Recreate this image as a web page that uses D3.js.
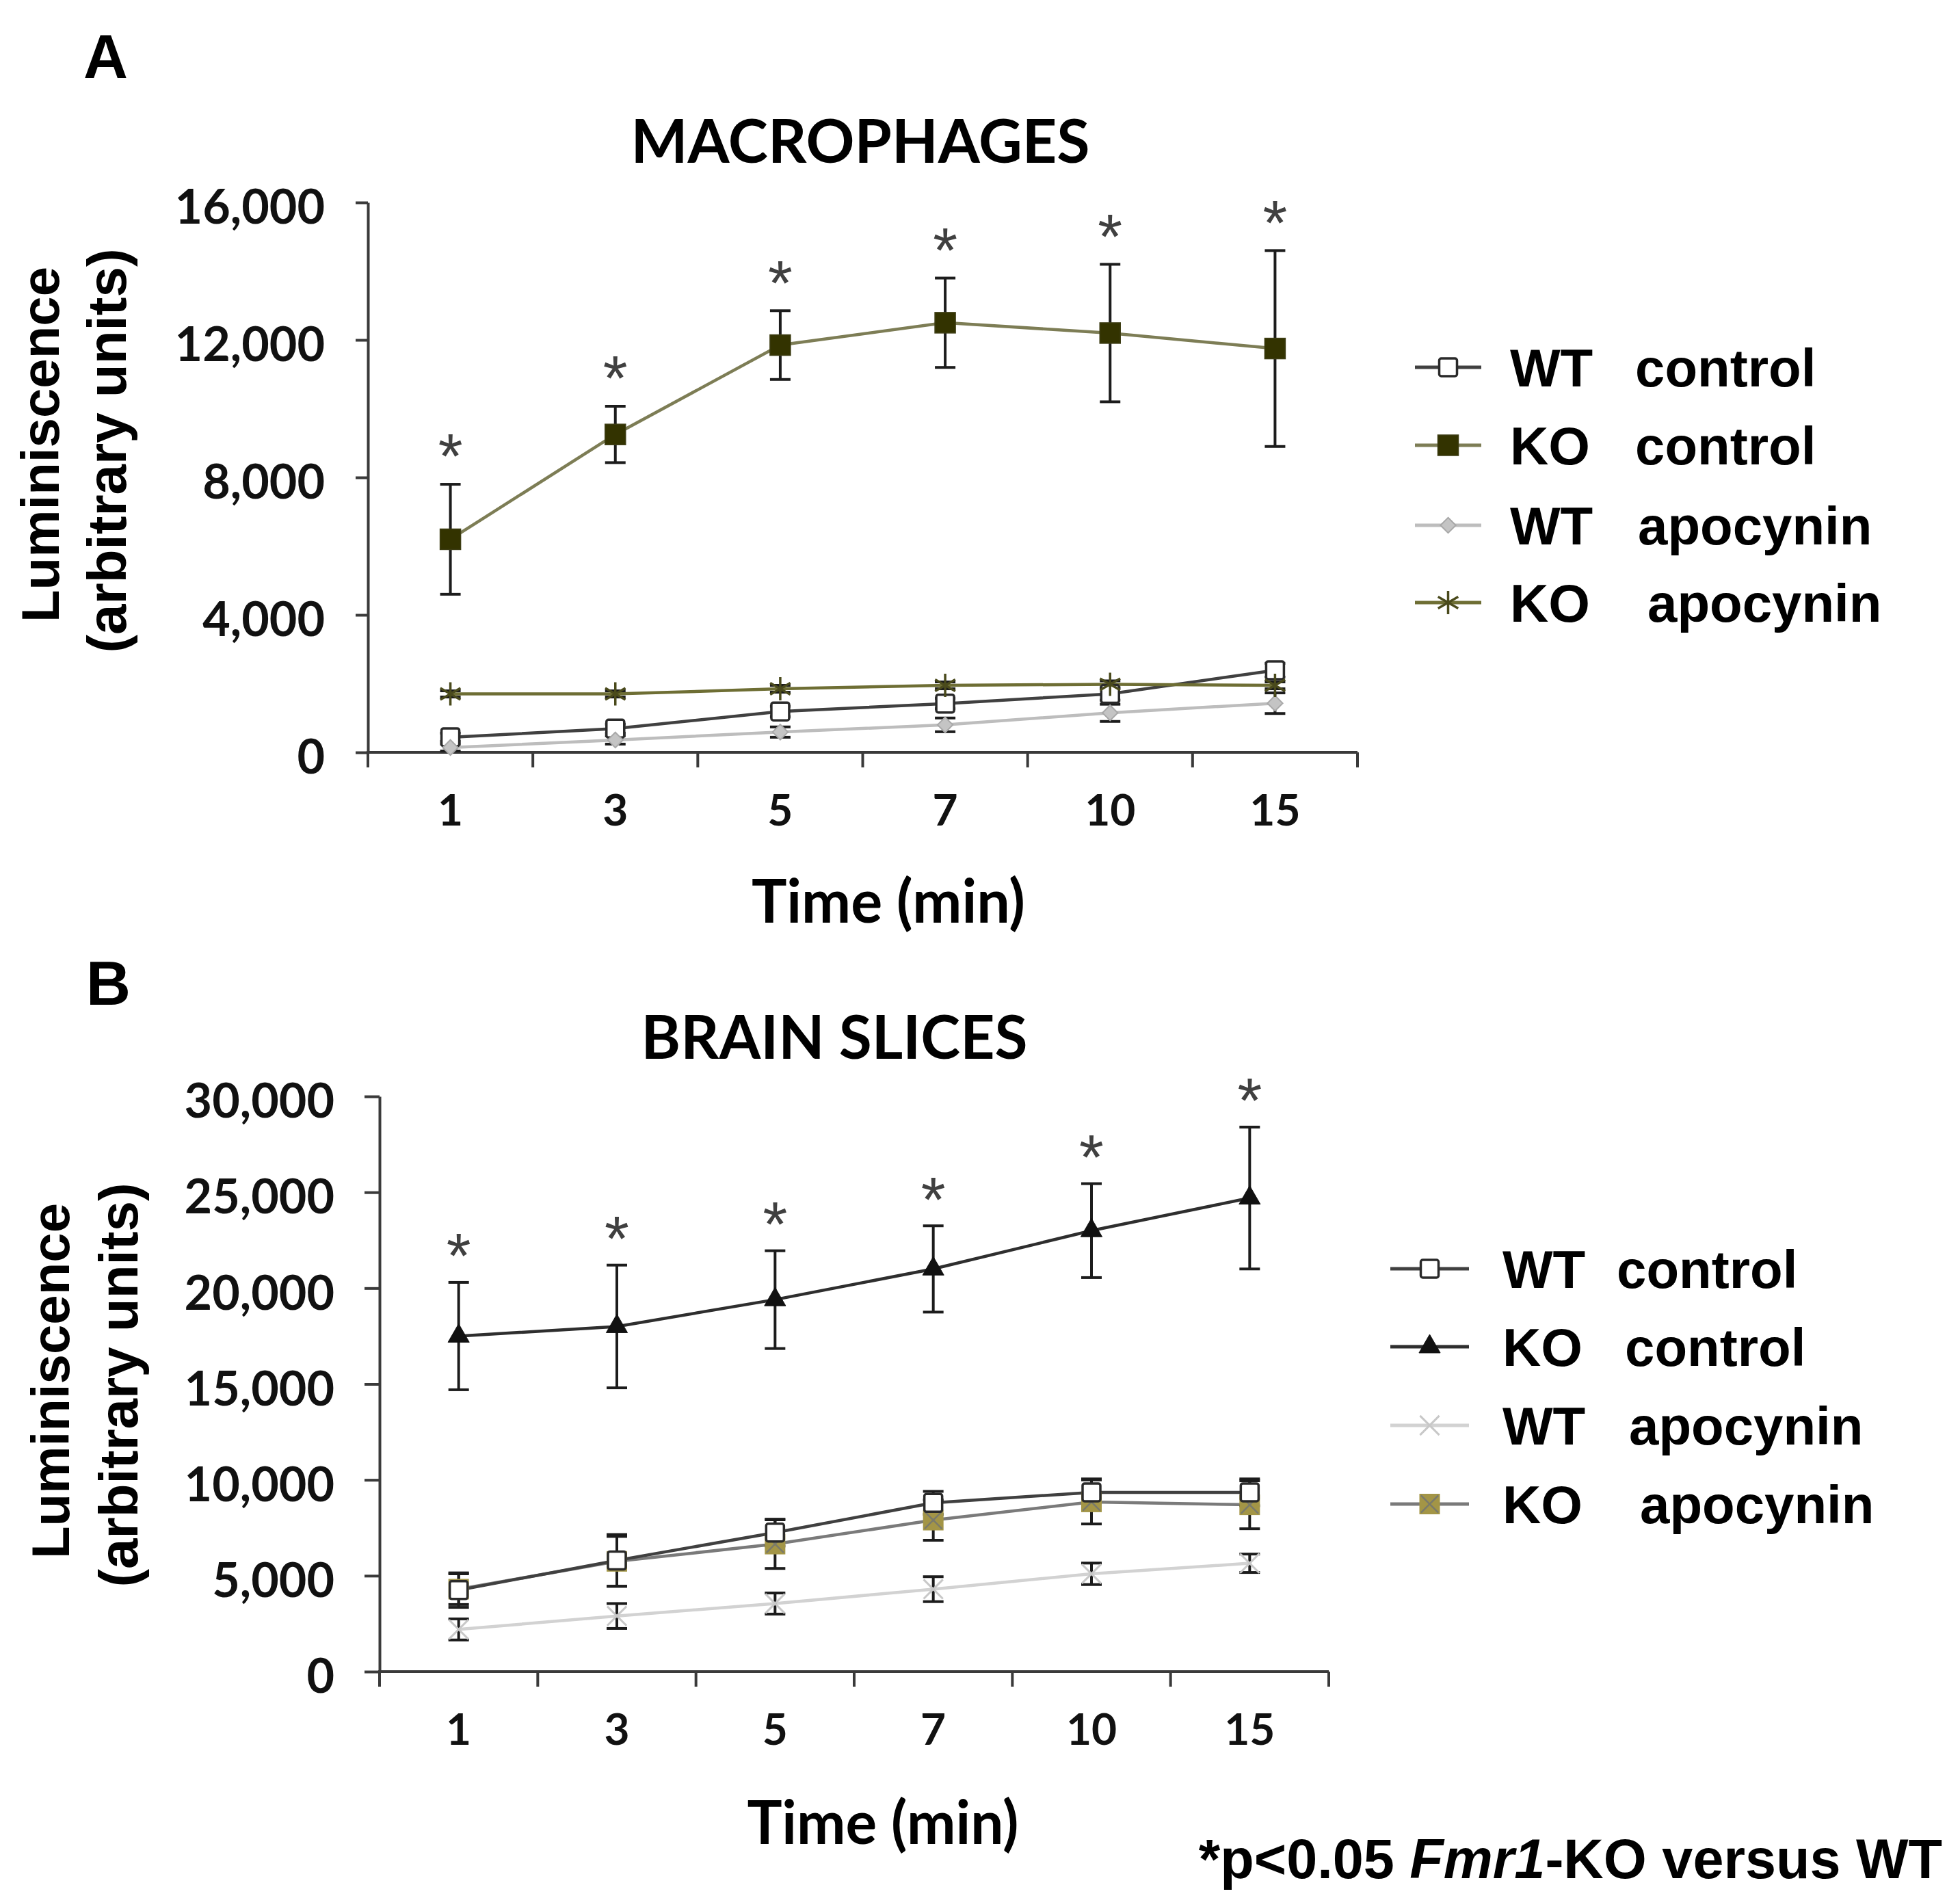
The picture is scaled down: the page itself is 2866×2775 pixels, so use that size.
<!DOCTYPE html>
<html>
<head>
<meta charset="utf-8">
<script src="https://cdn.jsdelivr.net/npm/d3@7"></script>
<style>
  body { margin: 0; background: #fff; }
  svg { display: block; }
</style>
</head>
<body>
<script>
// time points (min) shared by both panels
const times = ["1", "3", "5", "7", "10", "15"];

// panel A - macrophages
const yTicksA = [0, 4000, 8000, 12000, 16000];
const wtControlA = [440, 690, 1190, 1420, 1700, 2390];
const wtControlAErr = [120, 130, 150, 150, 180, 200];
const koControlA = [6200, 9250, 11850, 12500, 12200, 11750];
const koControlAErr = [1600, 820, 1000, 1300, 2000, 2850];
const wtApoA = [140, 360, 590, 800, 1150, 1430];
const wtApoAErr = [100, 120, 150, 200, 250, 300];
const koApoA = [1700, 1700, 1850, 1950, 1980, 1950];
const koApoAErr = [90, 90, 100, 100, 100, 100];

// panel B - brain slices
const yTicksB = [0, 5000, 10000, 15000, 20000, 25000, 30000];
const wtControlB = [4250, 5800, 7250, 8800, 9350, 9350];
const wtControlBErr = [900, 1350, 700, 600, 700, 700];
const koControlB = [17500, 18000, 19400, 21000, 23000, 24700];
const koControlBErr = [2800, 3200, 2550, 2250, 2450, 3700];
const wtApoB = [2200, 2900, 3550, 4300, 5100, 5650];
const wtApoBErr = [550, 650, 550, 650, 560, 480];
const koApoB = [4300, 5750, 6650, 7900, 8850, 8700];
const koApoBErr = [800, 1300, 1270, 1050, 1150, 1250];

const legendGeno = ["WT", "KO", "WT", "KO"];
const legendTreat = ["control", "control", "apocynin", "apocynin"];

const CAL = "Lato, 'Open Sans', sans-serif";
const ARIAL = "'Liberation Sans', Arial, sans-serif";

const svg = d3.select("body").append("svg")
    .attr("width", 2866)
    .attr("height", 2775);

function drawMarker(g, kind, x, y) {
    const m = g.append("g").attr("transform", `translate(${x},${y})`);
    if (kind === "openSquare") {
        m.append("rect").attr("x", -13).attr("y", -13).attr("width", 26).attr("height", 26)
            .attr("rx", 3).attr("fill", "#fff").attr("stroke", "#2a2a2a").attr("stroke-width", 3.5);
    } else if (kind === "filledSquare") {
        m.append("rect").attr("x", -15).attr("y", -15).attr("width", 30).attr("height", 30)
            .attr("fill", "#333300").attr("stroke", "#3d3d14").attr("stroke-width", 1.5);
    } else if (kind === "diamond") {
        m.append("path").attr("d", d3.symbol(d3.symbolDiamond2, 320)())
            .attr("fill", "#c4c4c4").attr("stroke", "#a8a8a8").attr("stroke-width", 2);
    } else if (kind === "asterisk") {
        m.append("path").attr("d", d3.symbol(d3.symbolAsterisk, 820)())
            .attr("fill", "none").attr("stroke", "#4a4a1c").attr("stroke-width", 3.5);
    } else if (kind === "triangle") {
        m.append("path").attr("d", d3.symbol(d3.symbolTriangle, 420)())
            .attr("fill", "#111").attr("stroke", "#111").attr("stroke-width", 1);
    } else if (kind === "x") {
        m.append("path").attr("d", d3.symbol(d3.symbolX, 520)())
            .attr("fill", "none").attr("stroke", "#c8c8c8").attr("stroke-width", 3);
    } else if (kind === "squareX") {
        m.append("rect").attr("x", -15).attr("y", -15).attr("width", 30).attr("height", 30)
            .attr("fill", "#a39546");
        m.append("path").attr("d", d3.symbol(d3.symbolX, 420)())
            .attr("fill", "none").attr("stroke", "#7a7a6a").attr("stroke-width", 2.5);
    }
}

const panels = [
    {
        letter: "A", letterX: 122, letterY: 114,
        title: "MACROPHAGES", titleX: 1258, titleY: 238, titleLen: 671,
        xRange: [538, 1985], yRange: [1100, 296], yMax: 16000, yTicks: yTicksA,
        tickLen: 18, tickPad: 45,
        xTitleX: 1299, xTitleY: 1349, xTitleLen: 400,
        yLab1: [86, 650], yLab2: [184, 659],
        legendX0: 2069, legendX1: 2166, legendTextX: 2208,
        legendRows: [537, 651, 768, 881], treatX: [2391, 2391, 2395, 2409],
        starGap: 62,
        series: [
            {values: wtControlA, err: wtControlAErr, color: "#404040", marker: "openSquare"},
            {values: wtApoA, err: wtApoAErr, color: "#bdbdbd", marker: "diamond"},
            {values: koApoA, err: koApoAErr, color: "#6e6e34", marker: "asterisk"},
            {values: koControlA, err: koControlAErr, color: "#7d7d55", marker: "filledSquare", stars: true}
        ],
        legendOrder: [0, 3, 1, 2]
    },
    {
        letter: "B", letterX: 126, letterY: 1469,
        title: "BRAIN SLICES", titleX: 1220, titleY: 1548, titleLen: 565,
        xRange: [555, 1943], yRange: [2444, 1603], yMax: 30000, yTicks: yTicksB,
        tickLen: 22, tickPad: 44,
        xTitleX: 1291, xTitleY: 2696, xTitleLen: 397,
        yLab1: [101, 2019], yLab2: [201, 2025],
        legendX0: 2033, legendX1: 2148, legendTextX: 2197,
        legendRows: [1855, 1969, 2084, 2199], treatX: [2364, 2376, 2382, 2398],
        starGap: 60,
        series: [
            {values: wtApoB, err: wtApoBErr, color: "#d2d2d2", marker: "x"},
            {values: koApoB, err: koApoBErr, color: "#7a7a7a", marker: "squareX"},
            {values: wtControlB, err: wtControlBErr, color: "#404040", marker: "openSquare"},
            {values: koControlB, err: koControlBErr, color: "#2e2e2e", marker: "triangle", stars: true}
        ],
        legendOrder: [2, 3, 0, 1]
    }
];

panels.forEach(p => {
    const g = svg.append("g");

    const x = d3.scaleBand().domain(times).range(p.xRange).paddingInner(0).paddingOuter(0);
    const y = d3.scaleLinear().domain([0, p.yMax]).range(p.yRange);
    const cx = t => x(t) + x.bandwidth() / 2;

    // panel letter and title
    g.append("text").attr("x", p.letterX).attr("y", p.letterY)
        .attr("font-family", ARIAL).attr("font-weight", "bold").attr("font-size", 90)
        .text(p.letter);
    g.append("text").attr("x", p.titleX).attr("y", p.titleY)
        .attr("text-anchor", "middle").attr("font-family", CAL).attr("font-weight", "bold")
        .attr("font-size", 88).attr("textLength", p.titleLen).attr("lengthAdjust", "spacingAndGlyphs")
        .text(p.title);

    // y axis
    const yAxis = g.append("g")
        .attr("transform", `translate(${p.xRange[0]},0)`)
        .call(d3.axisLeft(y).tickValues(p.yTicks).tickSize(p.tickLen).tickSizeOuter(0)
            .tickPadding(p.tickPad).tickFormat(d3.format(",")));
    yAxis.select(".domain").attr("stroke", "#3a3a3a").attr("stroke-width", 4);
    yAxis.selectAll(".tick line").attr("stroke", "#3a3a3a").attr("stroke-width", 4);
    yAxis.selectAll(".tick text").attr("font-family", CAL).attr("font-weight", "bold")
        .attr("font-size", 70).attr("fill", "#111").attr("dy", "0.44em");

    // x axis: labels at band centres, ticks at band edges
    const xAxis = g.append("g")
        .attr("transform", `translate(0,${p.yRange[0]})`)
        .call(d3.axisBottom(x).tickSize(0).tickPadding(62));
    xAxis.select(".domain").remove();
    xAxis.selectAll(".tick text").attr("font-family", CAL).attr("font-weight", "bold")
        .attr("font-size", 64).attr("fill", "#111");
    g.append("line")
        .attr("x1", p.xRange[0] - 2).attr("x2", p.xRange[1])
        .attr("y1", p.yRange[0]).attr("y2", p.yRange[0])
        .attr("stroke", "#3a3a3a").attr("stroke-width", 4);
    const edges = times.map(t => x(t)).concat([p.xRange[1]]);
    g.selectAll(".xedge").data(edges).join("line")
        .attr("x1", d => d).attr("x2", d => d)
        .attr("y1", p.yRange[0]).attr("y2", p.yRange[0] + 22)
        .attr("stroke", "#3a3a3a").attr("stroke-width", 4);

    // axis titles
    g.append("text").attr("x", p.xTitleX).attr("y", p.xTitleY)
        .attr("text-anchor", "middle").attr("font-family", CAL).attr("font-weight", "bold")
        .attr("font-size", 88).attr("textLength", p.xTitleLen).attr("lengthAdjust", "spacingAndGlyphs")
        .text("Time (min)");
    g.append("text").attr("transform", `translate(${p.yLab1[0]},${p.yLab1[1]}) rotate(-90)`)
        .attr("text-anchor", "middle").attr("font-family", ARIAL).attr("font-weight", "bold")
        .attr("font-size", 78).text("Luminiscence");
    g.append("text").attr("transform", `translate(${p.yLab2[0]},${p.yLab2[1]}) rotate(-90)`)
        .attr("text-anchor", "middle").attr("font-family", ARIAL).attr("font-weight", "bold")
        .attr("font-size", 80).text("(arbitrary units)");

    // lines
    const line = d3.line().x(d => cx(d.t)).y(d => y(d.v));
    p.series.forEach(s => {
        const pts = times.map((t, i) => ({t, v: s.values[i], e: s.err[i]}));
        s.pts = pts;
        g.append("path").datum(pts).attr("d", line)
            .attr("fill", "none").attr("stroke", s.color).attr("stroke-width", 4.5);
    });

    // error bars
    p.series.forEach(s => {
        const eb = g.append("g").attr("stroke", "#1c1c1c").attr("stroke-width", 4);
        eb.selectAll("line.v").data(s.pts).join("line")
            .attr("x1", d => cx(d.t)).attr("x2", d => cx(d.t))
            .attr("y1", d => y(d.v - d.e)).attr("y2", d => y(d.v + d.e));
        eb.selectAll("line.top").data(s.pts).join("line")
            .attr("x1", d => cx(d.t) - 15).attr("x2", d => cx(d.t) + 15)
            .attr("y1", d => y(d.v + d.e)).attr("y2", d => y(d.v + d.e));
        eb.selectAll("line.bot").data(s.pts).join("line")
            .attr("x1", d => cx(d.t) - 15).attr("x2", d => cx(d.t) + 15)
            .attr("y1", d => y(d.v - d.e)).attr("y2", d => y(d.v - d.e));
    });

    // markers
    p.series.forEach(s => {
        s.pts.forEach(d => drawMarker(g, s.marker, cx(d.t), y(d.v)));
    });

    // significance stars above the KO control error bars
    const starSeries = p.series.find(s => s.stars);
    g.selectAll(".star").data(starSeries.pts).join("text")
        .attr("x", d => cx(d.t))
        .attr("y", d => y(d.v + d.e) - p.starGap + 0.58 * 92)
        .attr("text-anchor", "middle").attr("font-family", ARIAL)
        .attr("font-size", 92).attr("fill", "#404040")
        .text("*");

    // legend
    p.legendOrder.forEach((si, row) => {
        const s = p.series[si];
        const ly = p.legendRows[row];
        g.append("line").attr("x1", p.legendX0).attr("x2", p.legendX1)
            .attr("y1", ly).attr("y2", ly).attr("stroke", s.color).attr("stroke-width", 5);
        drawMarker(g, s.marker, (p.legendX0 + p.legendX1) / 2, ly);
        g.append("text").attr("x", p.legendTextX).attr("y", ly + 28)
            .attr("font-family", ARIAL).attr("font-weight", "bold").attr("font-size", 78)
            .text(legendGeno[row]);
        g.append("text").attr("x", p.treatX[row]).attr("y", ly + 28)
            .attr("font-family", ARIAL).attr("font-weight", "bold").attr("font-size", 78)
            .text(legendTreat[row]);
    });
});

// footnote
const foot = svg.append("text").attr("x", 2840).attr("y", 2746)
    .attr("text-anchor", "end").attr("font-family", ARIAL).attr("font-weight", "bold")
    .attr("font-size", 81);
foot.append("tspan").text("*p<0.05 ");
foot.append("tspan").attr("font-style", "italic").text("Fmr1");
foot.append("tspan").text("-KO versus WT");
</script>
</body>
</html>
